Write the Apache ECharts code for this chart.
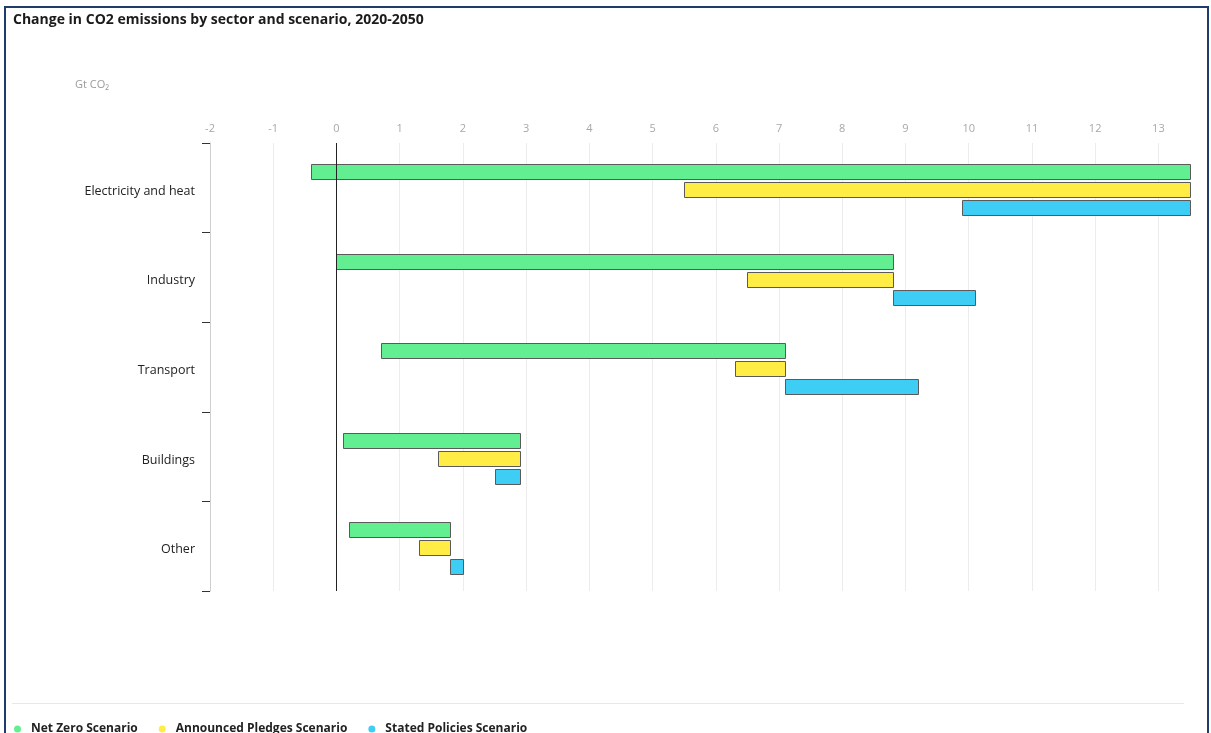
<!DOCTYPE html>
<html>
<head>
<meta charset="utf-8">
<title>Change in CO2 emissions by sector and scenario, 2020-2050</title>
<script src="https://cdn.jsdelivr.net/npm/echarts@6/dist/echarts.min.js"></script>
<style>
  html, body { margin: 0; padding: 0; background: #fff; overflow: hidden; }
  #chart { position: absolute; left: 0; top: 0; width: 1211px; height: 733px; }
  #frame {
    position: absolute; left: 4px; top: 6px; width: 1201px; height: 760px;
    border: 2px solid #1f3d6b; border-bottom: none; pointer-events: none;
  }
</style>
</head>
<body>
<div id="chart"></div>
<div id="frame"></div>
<script>
// Sectors, top to bottom
const sectors = ['Electricity and heat', 'Industry', 'Transport', 'Buildings', 'Other'];
// Emissions in 2020 (Gt CO2) – the common end of every bar
const level2020 = [13.5, 8.8, 7.1, 2.9, 1.8];
// Emissions in 2050 under each scenario (Gt CO2)
const netZero2050 = [-0.4, 0.0, 0.7, 0.1, 0.2];
const pledges2050 = [5.5, 6.5, 6.3, 1.6, 1.3];
const policies2050 = [9.9, 10.1, 9.2, 2.5, 2.0];
// Scenario names and colours
const scenarioNames = ['Net Zero Scenario', 'Announced Pledges Scenario', 'Stated Policies Scenario'];
const scenarioColors = ['#62ef92', '#ffec45', '#3ecdf5'];
const scenario2050 = [netZero2050, pledges2050, policies2050];

const chart = echarts.init(document.getElementById('chart'), null, { renderer: 'canvas' });

// Floating bar: spans between the 2050 value and the 2020 value of a sector
function barRenderer(slot) {
  const offsets = [-0.181, 0.02, 0.221];
  return function (params, api) {
    const cat = api.value(0);
    const a = api.coord([api.value(1), cat]);
    const b = api.coord([api.value(2), cat]);
    const band = api.size([0, 1])[1];
    const h = Math.round(band * 0.163);
    const cy = a[1] + band * offsets[slot];
    const x0 = Math.round(Math.min(a[0], b[0])) + 0.5;
    const x1 = Math.round(Math.max(a[0], b[0])) + 0.5;
    const y0 = Math.round(cy - h / 2) + 0.5;
    return {
      type: 'rect',
      shape: { x: x0, y: y0, width: x1 - x0, height: h },
      style: { fill: scenarioColors[slot], stroke: '#5a5a5a', lineWidth: 1 }
    };
  };
}

const series = scenarioNames.map(function (name, i) {
  const s = {
    name: name,
    type: 'custom',
    renderItem: barRenderer(i),
    encode: { x: [1, 2], y: 0 },
    itemStyle: { color: scenarioColors[i] },
    data: sectors.map(function (_, k) { return [k, scenario2050[i][k], level2020[k]]; }),
    z: 3
  };
  if (i === 0) {
    s.markLine = {
      silent: true,
      symbol: 'none',
      label: { show: false },
      lineStyle: { color: '#222', type: 'solid', width: 1 },
      data: [{ xAxis: 0 }],
      animation: false
    };
  }
  return s;
});

chart.setOption({
  animation: false,
  textStyle: { fontFamily: '"Open Sans", "Noto Sans", sans-serif' },
  title: [
    {
      text: 'Change in CO2 emissions by sector and scenario, 2020-2050',
      left: 13, top: 13, padding: 0,
      textStyle: { fontSize: 14, fontWeight: 'bold', color: '#1b1b1b' }
    },
    {
      text: 'Gt CO\u2082',
      left: 75, top: 79, padding: 0,
      textStyle: { fontSize: 11, fontWeight: 'normal', color: '#9a9a9a' }
    }
  ],
  graphic: [
    {
      type: 'line',
      shape: { x1: 12, y1: 703.5, x2: 1184, y2: 703.5 },
      style: { stroke: '#e8e8e8', lineWidth: 1 },
      silent: true
    }
  ],
  legend: {
    left: 14, top: 723, padding: 0,
    icon: 'circle',
    itemWidth: 17, itemHeight: 7,
    itemGap: 21,
    textStyle: { fontSize: 12, fontWeight: 'bold', color: '#222' },
    data: scenarioNames
  },
  grid: { left: 210, right: 21, top: 143, bottom: 142, containLabel: false },
  xAxis: {
    type: 'value',
    position: 'top',
    min: -2, max: 13.5, interval: 1,
    axisLine: { show: false },
    axisTick: { show: false },
    axisLabel: { color: '#a8a8a8', fontSize: 11, margin: 9, showMaxLabel: false },
    splitLine: { show: true, showMaxLine: false, lineStyle: { color: '#ececec', width: 1 } }
  },
  yAxis: {
    type: 'category',
    inverse: true,
    data: sectors,
    axisLine: { show: true, onZero: false, lineStyle: { color: '#cfcfcf', width: 1 } },
    axisTick: { show: true, length: 8, lineStyle: { color: '#333', width: 1 } },
    axisLabel: {
      color: '#222', fontSize: 12.5, margin: 15,
      formatter: function (v) { return '{s|' + v + '}'; },
      rich: { s: { fontSize: 12.5, color: '#222', padding: [7, 0, 0, 0] } }
    },
    splitLine: { show: false }
  },
  series: series
});
</script>
</body>
</html>
